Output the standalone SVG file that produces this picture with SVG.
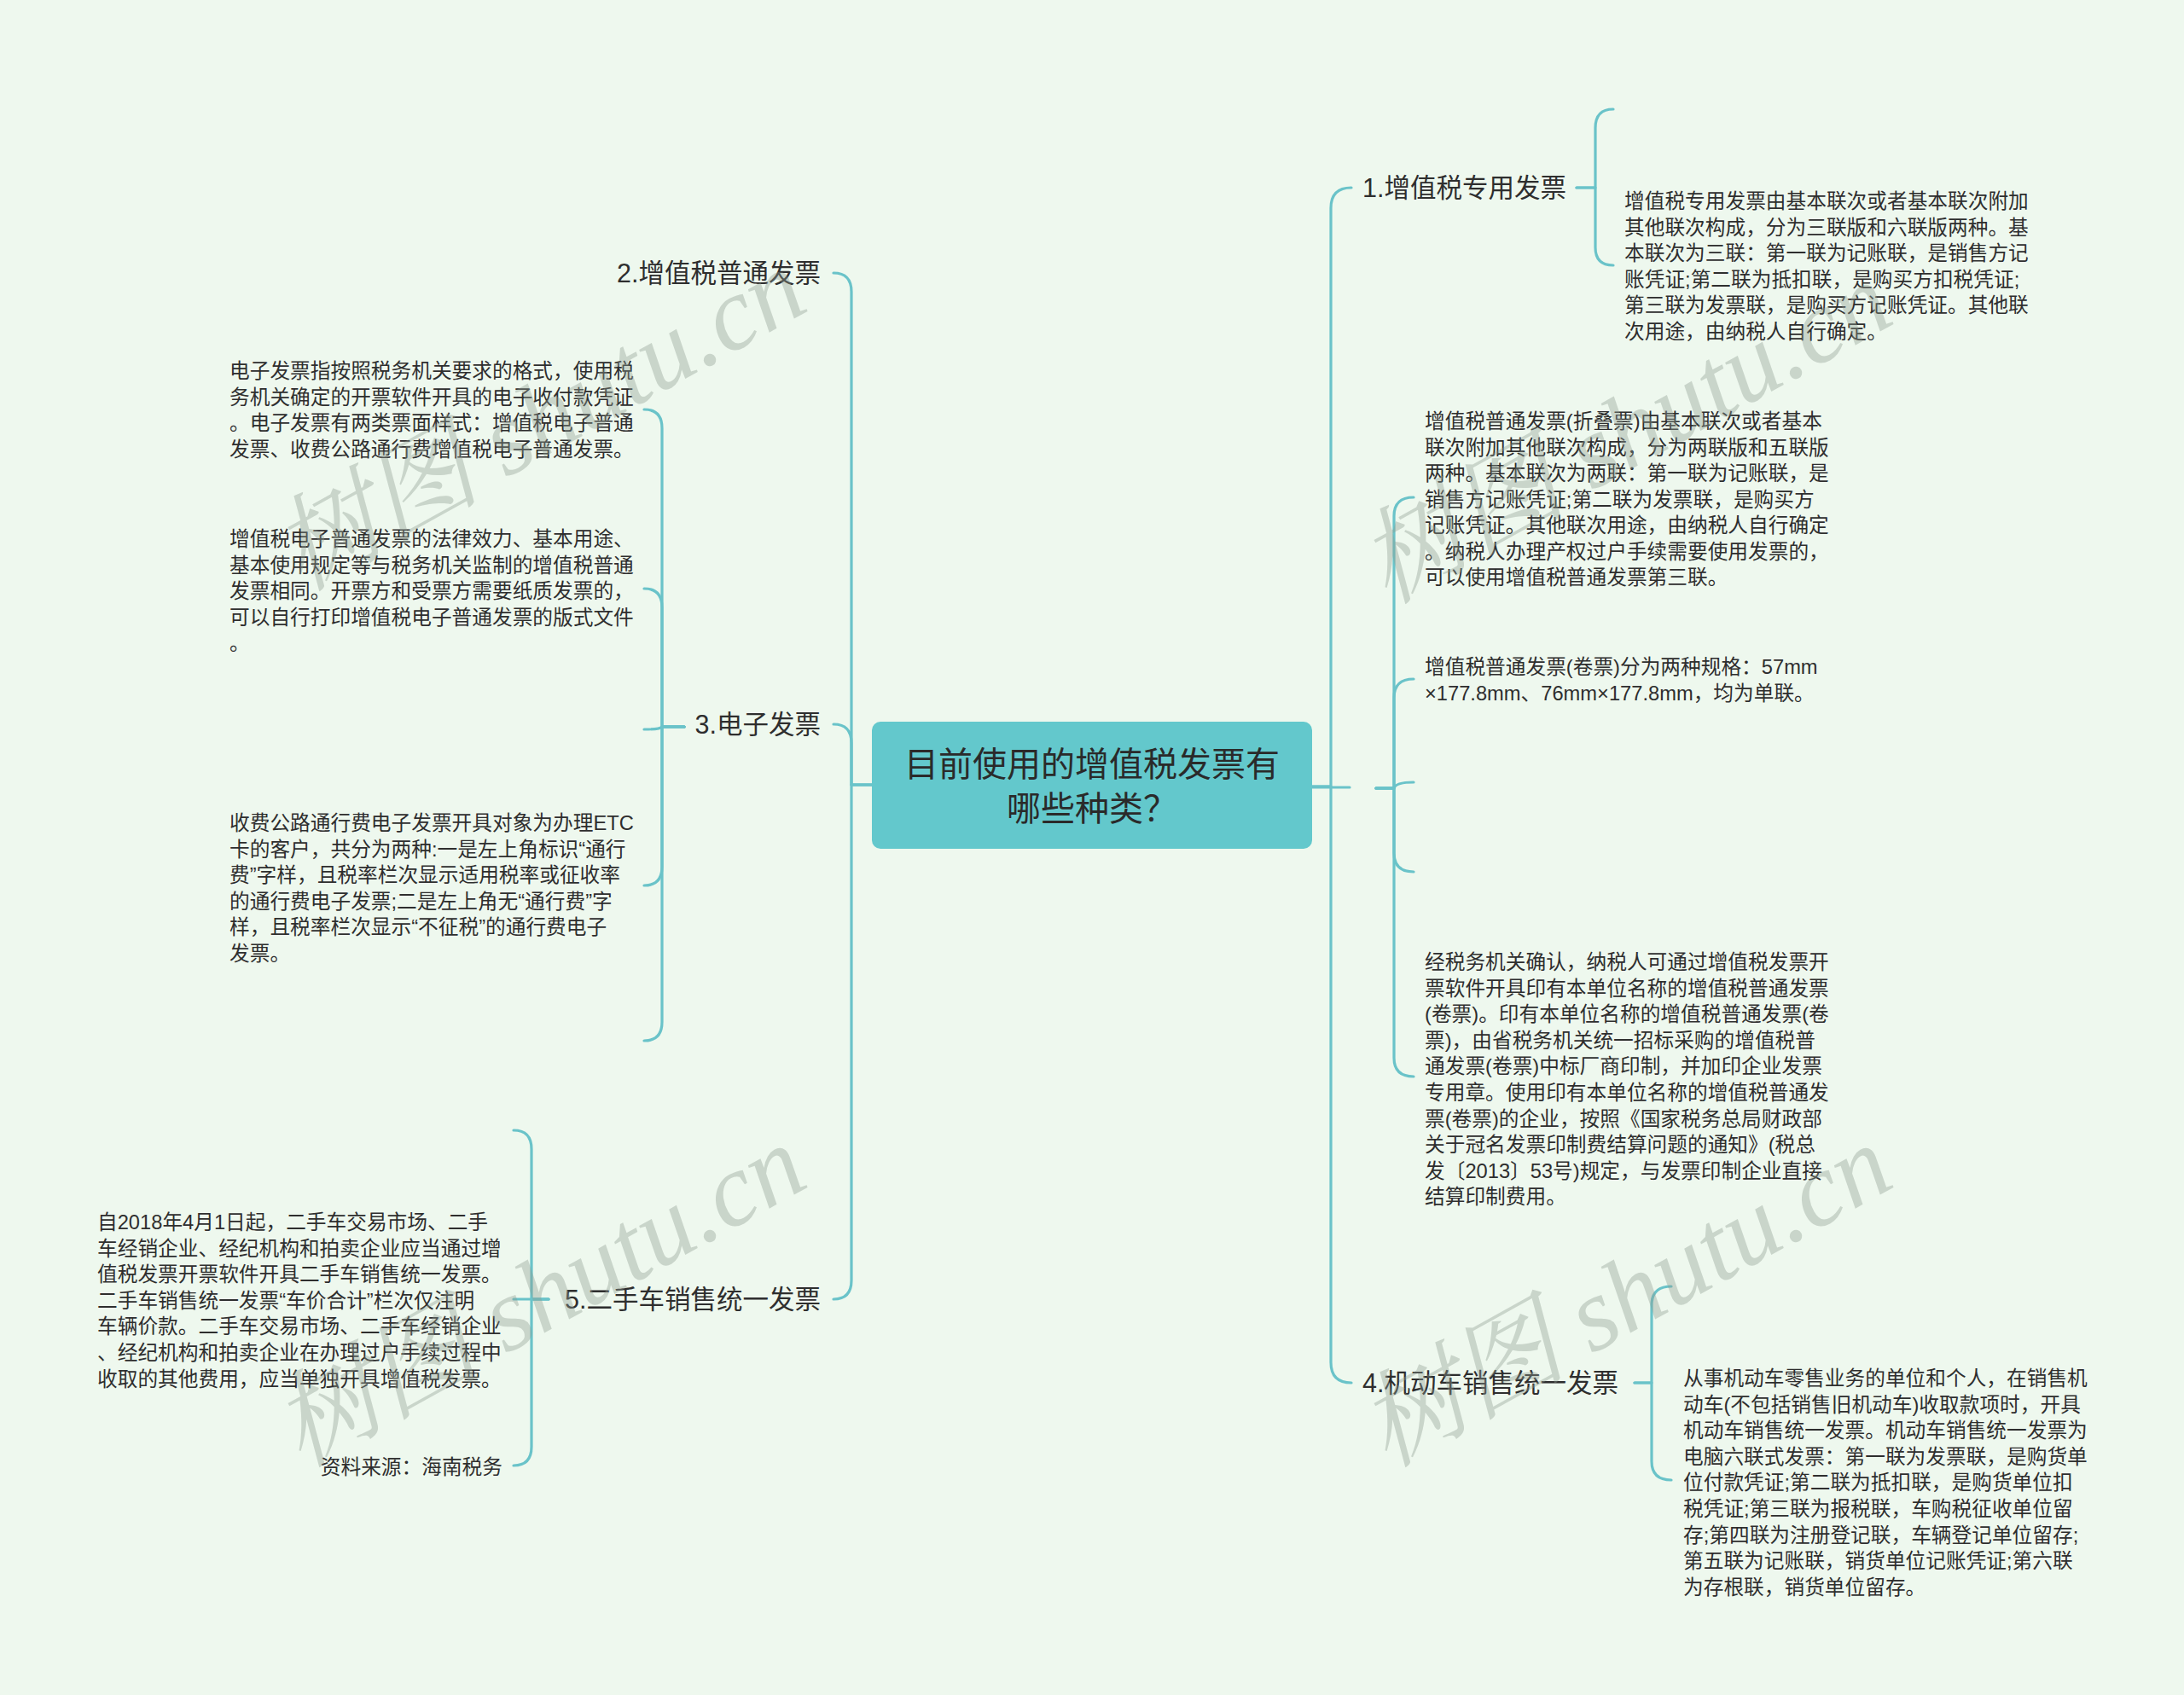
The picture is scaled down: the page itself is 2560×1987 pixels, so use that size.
<svg xmlns="http://www.w3.org/2000/svg" width="2560" height="1987" viewBox="0 0 2560 1987">
<style>
.bg{fill:#EEF8EE}
.ln{fill:none;stroke:#6AC3C9;stroke-width:3.2;stroke-linecap:round;stroke-linejoin:round}
.t{font-family:"Liberation Sans","Noto Sans CJK SC",sans-serif;font-size:23.7px;fill:#2E2E2E}
.h{font-family:"Liberation Sans","Noto Sans CJK SC",sans-serif;font-size:30.5px;fill:#2E2E2E}
.c{font-family:"Liberation Sans","Noto Sans CJK SC",sans-serif;font-size:40px;fill:#2A2A2A;text-anchor:middle}
.wm{font-family:"Liberation Serif","Noto Serif CJK SC","Noto Sans CJK SC",serif;font-style:italic;font-size:122px;fill:#8E9A90;fill-opacity:0.38;text-anchor:middle}
</style>
<rect class="bg" x="0" y="0" width="2560" height="1987"/>

<g id="connectors">
  <path class="ln" d="M1538,922 H1560 V244 Q1560,220 1584,220"/>
  <path class="ln" d="M1538,922 H1560 V1597 Q1560,1621 1584,1621"/>
  <path class="ln" d="M1538,923 H1582"/>
  <path class="ln" d="M1848,220 H1870 V150 Q1870,128 1891,128"/>
  <path class="ln" d="M1848,220 H1870 V290 Q1870,311 1891,311"/>
  <path class="ln" d="M1613,924 H1634 V605 Q1634,583 1657,583"/>
  <path class="ln" d="M1613,924 H1634 V818 Q1634,796 1657,796"/>
  <path class="ln" d="M1613,924 H1634 Q1636,917 1657,917"/>
  <path class="ln" d="M1613,924 H1634 V1000 Q1634,1022 1657,1022"/>
  <path class="ln" d="M1613,924 H1634 V1240 Q1634,1262 1657,1262"/>
  <path class="ln" d="M1916,1621 H1936 V1530 Q1936,1508 1959,1508"/>
  <path class="ln" d="M1916,1621 H1936 V1713 Q1936,1735 1959,1735"/>
  <path class="ln" d="M1022,920 H998 V342 Q998,320 977,320"/>
  <path class="ln" d="M1022,920 H998 V871 Q998,849 977,849"/>
  <path class="ln" d="M1022,920 H998 V1501 Q998,1523 977,1523"/>
  <path class="ln" d="M802,852 H776 V502 Q776,480 755,480"/>
  <path class="ln" d="M802,852 H776 V712 Q776,690 755,690"/>
  <path class="ln" d="M802,852 H776 Q774,855 755,855"/>
  <path class="ln" d="M802,852 H776 V1016 Q776,1038 755,1038"/>
  <path class="ln" d="M802,852 H776 V1198 Q776,1220 755,1220"/>
  <path class="ln" d="M643,1523 H623 V1347 Q623,1325 602,1325"/>
  <path class="ln" d="M643,1523 H602"/>
  <path class="ln" d="M643,1523 H623 V1696 Q623,1718 602,1718"/>
</g>

<g id="center">
  <rect x="1022" y="846" width="516" height="149" rx="10" ry="10" fill="#63C8CC"/>
  <text class="c" x="1280" y="910">目前使用的增值税发票有</text>
  <text class="c" x="1280" y="962">哪些种类？</text>
</g>

<g id="n1">
  <text class="h" x="1597" y="231">1.增值税专用发票</text>
</g>
<g id="n1-detail">
  <text class="t" x="1904" y="244">增值税专用发票由基本联次或者基本联次附加</text>
  <text class="t" x="1904" y="274.5">其他联次构成，分为三联版和六联版两种。基</text>
  <text class="t" x="1904" y="305">本联次为三联：第一联为记账联，是销售方记</text>
  <text class="t" x="1904" y="335.5">账凭证;第二联为抵扣联，是购买方扣税凭证;</text>
  <text class="t" x="1904" y="366">第三联为发票联，是购买方记账凭证。其他联</text>
  <text class="t" x="1904" y="396.5">次用途，由纳税人自行确定。</text>
</g>

<g id="n-empty-right"></g>
<g id="r2">
  <text class="t" x="1670" y="502">增值税普通发票(折叠票)由基本联次或者基本</text>
  <text class="t" x="1670" y="532.5">联次附加其他联次构成，分为两联版和五联版</text>
  <text class="t" x="1670" y="563">两种。基本联次为两联：第一联为记账联，是</text>
  <text class="t" x="1670" y="593.5">销售方记账凭证;第二联为发票联，是购买方</text>
  <text class="t" x="1670" y="624">记账凭证。其他联次用途，由纳税人自行确定</text>
  <text class="t" x="1670" y="654.5">。纳税人办理产权过户手续需要使用发票的，</text>
  <text class="t" x="1670" y="685">可以使用增值税普通发票第三联。</text>
</g>
<g id="r3">
  <text class="t" x="1670" y="790">增值税普通发票(卷票)分为两种规格：57mm</text>
  <text class="t" x="1670" y="821">×177.8mm、76mm×177.8mm，均为单联。</text>
</g>
<g id="r5">
  <text class="t" x="1670" y="1136">经税务机关确认，纳税人可通过增值税发票开</text>
  <text class="t" x="1670" y="1166.6">票软件开具印有本单位名称的增值税普通发票</text>
  <text class="t" x="1670" y="1197.2">(卷票)。印有本单位名称的增值税普通发票(卷</text>
  <text class="t" x="1670" y="1227.8">票)，由省税务机关统一招标采购的增值税普</text>
  <text class="t" x="1670" y="1258.4">通发票(卷票)中标厂商印制，并加印企业发票</text>
  <text class="t" x="1670" y="1289">专用章。使用印有本单位名称的增值税普通发</text>
  <text class="t" x="1670" y="1319.6">票(卷票)的企业，按照《国家税务总局财政部</text>
  <text class="t" x="1670" y="1350.2">关于冠名发票印制费结算问题的通知》(税总</text>
  <text class="t" x="1670" y="1380.8">发〔2013〕53号)规定，与发票印制企业直接</text>
  <text class="t" x="1670" y="1411.4">结算印制费用。</text>
</g>

<g id="n4">
  <text class="h" x="1597" y="1632">4.机动车销售统一发票</text>
</g>
<g id="n4-detail">
  <text class="t" x="1973" y="1624">从事机动车零售业务的单位和个人，在销售机</text>
  <text class="t" x="1973" y="1654.6">动车(不包括销售旧机动车)收取款项时，开具</text>
  <text class="t" x="1973" y="1685.2">机动车销售统一发票。机动车销售统一发票为</text>
  <text class="t" x="1973" y="1715.8">电脑六联式发票：第一联为发票联，是购货单</text>
  <text class="t" x="1973" y="1746.4">位付款凭证;第二联为抵扣联，是购货单位扣</text>
  <text class="t" x="1973" y="1777">税凭证;第三联为报税联，车购税征收单位留</text>
  <text class="t" x="1973" y="1807.6">存;第四联为注册登记联，车辆登记单位留存;</text>
  <text class="t" x="1973" y="1838.2">第五联为记账联，销货单位记账凭证;第六联</text>
  <text class="t" x="1973" y="1868.8">为存根联，销货单位留存。</text>
</g>

<g id="n2">
  <text class="h" x="962" y="331" text-anchor="end">2.增值税普通发票</text>
</g>

<g id="n3">
  <text class="h" x="962" y="860" text-anchor="end">3.电子发票</text>
</g>
<g id="l1">
  <text class="t" x="269" y="443">电子发票指按照税务机关要求的格式，使用税</text>
  <text class="t" x="269" y="473.6">务机关确定的开票软件开具的电子收付款凭证</text>
  <text class="t" x="269" y="504.2">。电子发票有两类票面样式：增值税电子普通</text>
  <text class="t" x="269" y="534.8">发票、收费公路通行费增值税电子普通发票。</text>
</g>
<g id="l2">
  <text class="t" x="269" y="640">增值税电子普通发票的法律效力、基本用途、</text>
  <text class="t" x="269" y="670.6">基本使用规定等与税务机关监制的增值税普通</text>
  <text class="t" x="269" y="701.2">发票相同。开票方和受票方需要纸质发票的，</text>
  <text class="t" x="269" y="731.8">可以自行打印增值税电子普通发票的版式文件</text>
  <text class="t" x="269" y="762.4">。</text>
</g>
<g id="l3">
  <text class="t" x="269" y="973">收费公路通行费电子发票开具对象为办理ETC</text>
  <text class="t" x="269" y="1003.6">卡的客户，共分为两种:一是左上角标识“通行</text>
  <text class="t" x="269" y="1034.2">费”字样，且税率栏次显示适用税率或征收率</text>
  <text class="t" x="269" y="1064.8">的通行费电子发票;二是左上角无“通行费”字</text>
  <text class="t" x="269" y="1095.4">样，且税率栏次显示“不征税”的通行费电子</text>
  <text class="t" x="269" y="1126">发票。</text>
</g>

<g id="n5">
  <text class="h" x="962" y="1534" text-anchor="end">5.二手车销售统一发票</text>
</g>
<g id="l5">
  <text class="t" x="114" y="1441">自2018年4月1日起，二手车交易市场、二手</text>
  <text class="t" x="114" y="1471.6">车经销企业、经纪机构和拍卖企业应当通过增</text>
  <text class="t" x="114" y="1502.2">值税发票开票软件开具二手车销售统一发票。</text>
  <text class="t" x="114" y="1532.8">二手车销售统一发票“车价合计”栏次仅注明</text>
  <text class="t" x="114" y="1563.4">车辆价款。二手车交易市场、二手车经销企业</text>
  <text class="t" x="114" y="1594">、经纪机构和拍卖企业在办理过户手续过程中</text>
  <text class="t" x="114" y="1624.6">收取的其他费用，应当单独开具增值税发票。</text>
</g>
<g id="l6">
  <text class="t" x="589" y="1728" text-anchor="end">资料来源：海南税务</text>
</g>

<g id="watermarks">
  <text class="wm" transform="translate(652,528) rotate(-29)">树图 shutu.cn</text>
  <text class="wm" transform="translate(1925,543) rotate(-29)">树图 shutu.cn</text>
  <text class="wm" transform="translate(652,1555) rotate(-29)">树图 shutu.cn</text>
  <text class="wm" transform="translate(1925,1555) rotate(-29)">树图 shutu.cn</text>
</g>
</svg>
